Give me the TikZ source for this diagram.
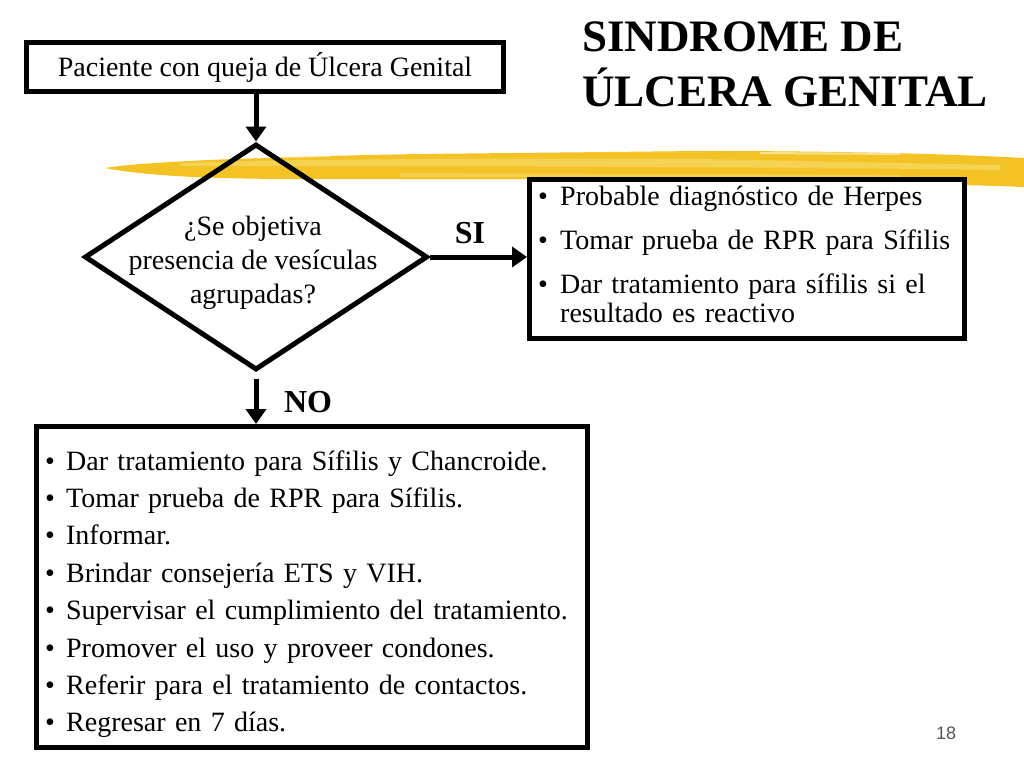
\documentclass[tikz,border=0pt]{standalone}
\usepackage{fontspec}
\setmainfont{Liberation Serif}
\setsansfont{Liberation Sans}
\usetikzlibrary{arrows.meta,positioning,shapes.geometric}
\definecolor{Marker}{HTML}{F3C326}
\definecolor{MarkerLight}{HTML}{F9DD70}
\definecolor{PageGray}{HTML}{555555}
\newcommand{\bul}[1][24pt]{\makebox[#1][l]{\textbullet}}
\tikzset{
  stepbox/.style={
    draw=black, line width=5pt, fill=white, inner ysep=0pt,
    font=\fontsize{28}{28}\selectfont
  },
  decision/.style={
    diamond, draw=black, line width=5pt, inner sep=0pt,
    minimum width=343pt, minimum height=226pt
  },
  qtext/.style={align=center, font=\fontsize{28}{34}\selectfont},
  itemlist/.style={anchor=base west, inner sep=0pt, align=left},
  answer/.style={font=\fontsize{32}{32}\selectfont\bfseries},
  titletext/.style={anchor=base west, inner sep=0pt, font=\fontsize{45}{54}\selectfont\bfseries},
  flow/.style={-{Triangle[length=15pt,width=20pt]}, line width=5pt}
}

\begin{document}
\begin{tikzpicture}[x=1pt,y=-1pt]
  \useasboundingbox[fill=white] (0,0) rectangle (1024,768);
  % highlighter stroke
  \fill[Marker] (105,168) .. controls (140,162) and (250,157) .. (420,154)
    -- (700,151) .. controls (850,151) and (950,154) .. (1024,158)
    -- (1024,187) .. controls (950,184) and (800,181) .. (600,179)
    -- (300,179) .. controls (200,179) and (140,175) .. (105,168) -- cycle;
  \fill[MarkerLight,opacity=.6] (180,163) .. controls (300,159) and (500,158) .. (700,159)
    -- (1000,165) -- (1000,170) .. controls (800,167) and (500,166) .. (180,166) -- cycle;
  \fill[MarkerLight,opacity=.5] (400,173) -- (900,175) -- (900,178) -- (400,177) -- cycle;
  \fill[white,opacity=.5] (220,157) -- (330,155) -- (330,157) -- (220,159) -- cycle;
  \fill[white,opacity=.5] (760,152) -- (900,153) -- (900,155) -- (760,154) -- cycle;

  \node[titletext] (title1) at (582,52) {SINDROME DE};
  \node[titletext] (title2) at (582,106) {ÚLCERA GENITAL};

  \node[stepbox, minimum width=477pt, minimum height=49pt] (patient) at (265,67)
    {Paciente con queja de Úlcera Genital};
  \node[decision] (q) at (256,257) {};
  \node[qtext] (qt) at ([xshift=-3pt,yshift=-6pt]q.center)
    {¿Se objetiva\\presencia de vesículas\\agrupadas?};

  \node[stepbox, minimum width=435pt, minimum height=159pt] (herpes) at (747,259) {};
  \node[itemlist, text width=420pt, font=\fontsize{28}{28.5}\selectfont] (herpesitems) at (538,205)
    {\bul[22pt]Probable diagnóstico de Herpes\\[16pt]
     \bul[22pt]Tomar prueba de RPR para Sífilis\\[15.5pt]
     \bul[22pt]Dar tratamiento para sífilis si el\\
     \hspace*{22pt}resultado es reactivo};

  \node[stepbox, minimum width=551pt, minimum height=321pt] (treat) at (312,587) {};
  \node[itemlist, text width=540pt, font=\fontsize{28}{37.4}\selectfont] (treatitems) at (45,470)
    {\bul[21pt]Dar tratamiento para Sífilis y Chancroide.\\
     \bul[21pt]Tomar prueba de RPR para Sífilis.\\
     \bul[21pt]Informar.\\
     \bul[21pt]Brindar consejería ETS y VIH.\\
     \bul[21pt]Supervisar el cumplimiento del tratamiento.\\
     \bul[21pt]Promover el uso y proveer condones.\\
     \bul[21pt]Referir para el tratamiento de contactos.\\
     \bul[21pt]Regresar en 7 días.};

  \draw[flow] (patient.south -| q.north) -- (q.north);
  \draw[flow] (q.east) -- (q.east -| herpes.west);
  \draw[flow, shorten <=6pt] (q.south) -- (q.south |- treat.north);
  \node[answer] (si) at (470,233) {SI};
  \node[answer] (no) at (308,402) {NO};

  \node[font=\fontsize{18}{18}\sffamily, text=PageGray] (page) at (946,733) {18};
\end{tikzpicture}
\end{document}
